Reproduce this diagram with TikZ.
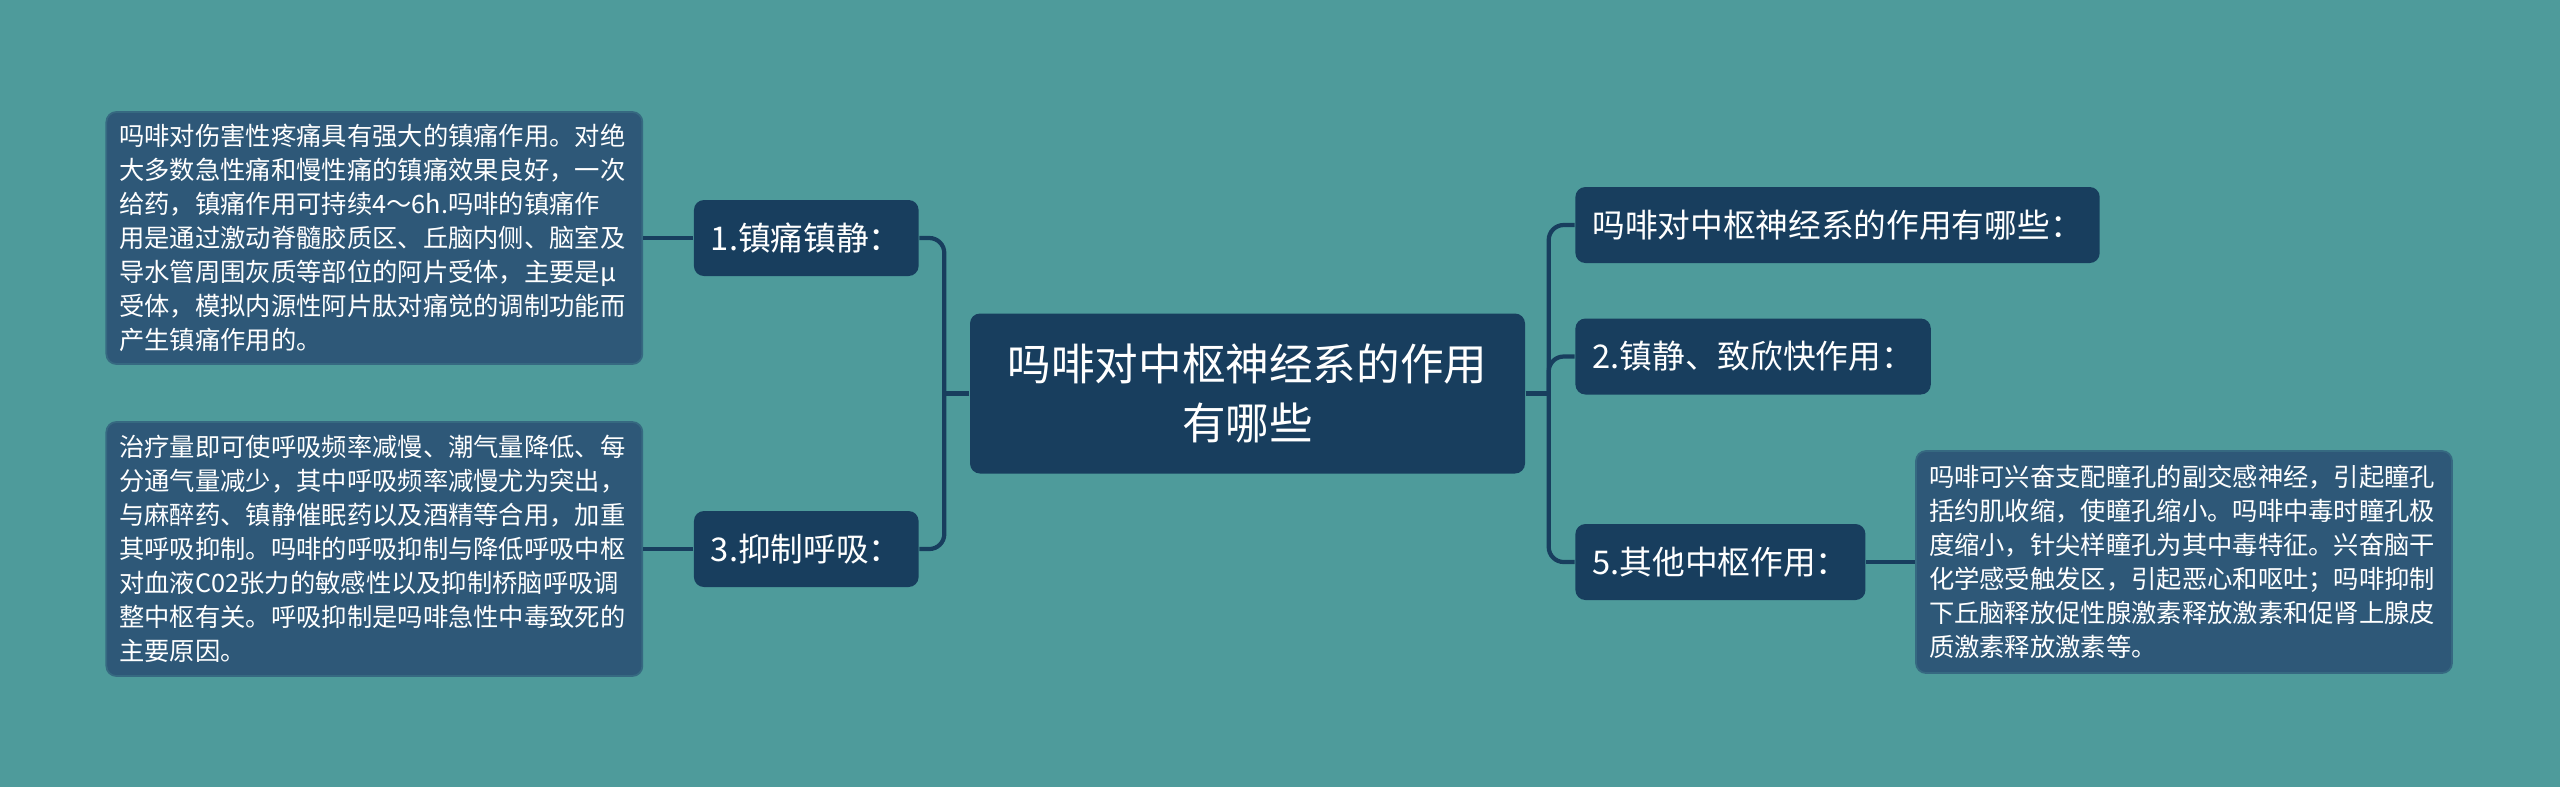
\documentclass[tikz,border=0pt]{standalone}
\usepackage{fontspec}
\setmainfont{Noto Sans CJK SC}
\usepackage{tikz}
\usetikzlibrary{positioning}
\usepackage{xcolor}
\definecolor{bgteal}{RGB}{78,155,155}
\definecolor{navy}{RGB}{24,62,94}
\definecolor{slate}{RGB}{46,88,120}

\begin{document}
\begin{tikzpicture}[
    node distance=0.5cm,
    topic/.style={rectangle, fill=navy, text=white, rounded corners=0.1cm,
        minimum width=5.55cm, minimum height=1.6cm, align=center,
        font=\fontsize{12.4}{16.8}\selectfont},
    branch/.style={rectangle, fill=navy, text=white, rounded corners=0.1cm,
        minimum height=0.76cm, inner xsep=0.17cm,
        font=\fontsize{9.3}{11}\selectfont},
    detail/.style={rectangle, fill=slate, draw=slate!75!bgteal, line width=0.5pt,
        text=white, rounded corners=0.1cm, text width=5.1cm, inner xsep=0.13cm,
        align=left, font=\fontsize{7.2}{9.7}\selectfont},
    link/.style={draw=navy, line width=1.2pt}
]

% Canvas
\fill[bgteal] (0,0) rectangle (25.6,-7.87);
\useasboundingbox (0,0) rectangle (25.6,-7.87);

% Central topic
\node[topic] (root) at (12.475,-3.935) {吗啡对中枢神经系的作用\\有哪些};

% Left branches
\node[branch, left=0.5cm of root, yshift=1.555cm] (pain) {1.镇痛镇静：};
\node[branch, left=0.5cm of root, yshift=-1.555cm] (resp) {3.抑制呼吸：};

% Right branches
\node[branch, right=0.49cm of root, yshift=1.685cm] (intro) {吗啡对中枢神经系的作用有哪些：};
\node[branch, right=0.49cm of root, yshift=0.37cm] (calm) {2.镇静、致欣快作用：};
\node[branch, right=0.49cm of root, yshift=-1.685cm] (other) {5.其他中枢作用：};

% Details
\node[detail, left=0.5cm of pain, minimum height=2.52cm] (painnote) {吗啡对伤害性疼痛具有强大的镇痛作用。对绝\\
大多数急性痛和慢性痛的镇痛效果良好，一次\\
给药，镇痛作用可持续4～6h.吗啡的镇痛作\\
用是通过激动脊髓胶质区、丘脑内侧、脑室及\\
导水管周围灰质等部位的阿片受体，主要是μ\\
受体，模拟内源性阿片肽对痛觉的调制功能而\\
产生镇痛作用的。};
\node[detail, left=0.5cm of resp, minimum height=2.54cm] (respnote) {治疗量即可使呼吸频率减慢、潮气量降低、每\\
分通气量减少，其中呼吸频率减慢尤为突出，\\
与麻醉药、镇静催眠药以及酒精等合用，加重\\
其呼吸抑制。吗啡的呼吸抑制与降低呼吸中枢\\
对血液C02张力的敏感性以及抑制桥脑呼吸调\\
整中枢有关。呼吸抑制是吗啡急性中毒致死的\\
主要原因。};
\node[detail, right=0.49cm of other, minimum height=2.22cm] (othernote) {吗啡可兴奋支配瞳孔的副交感神经，引起瞳孔\\
括约肌收缩，使瞳孔缩小。吗啡中毒时瞳孔极\\
度缩小，针尖样瞳孔为其中毒特征。兴奋脑干\\
化学感受触发区，引起恶心和呕吐；吗啡抑制\\
下丘脑释放促性腺激素释放激素和促肾上腺皮\\
质激素释放激素等。};

% Hubs
\coordinate[left=0.25cm of root.west] (lhub);
\coordinate[right=0.23cm of root.east] (rhub);

% Connectors
\draw[link] (root.west) -- (lhub);
\draw[link, rounded corners=0.15cm] (pain.east) -| (lhub) |- (resp.east);
\draw[link] (root.east) -- (rhub);
\draw[link, rounded corners=0.15cm] (intro.west) -| (rhub) |- (other.west);
\draw[link, rounded corners=0.15cm] (rhub) |- (calm.west);
\draw[link] (pain.west) -- (painnote.east);
\draw[link] (resp.west) -- (respnote.east);
\draw[link] (other.east) -- (othernote.west);

\end{tikzpicture}
\end{document}
